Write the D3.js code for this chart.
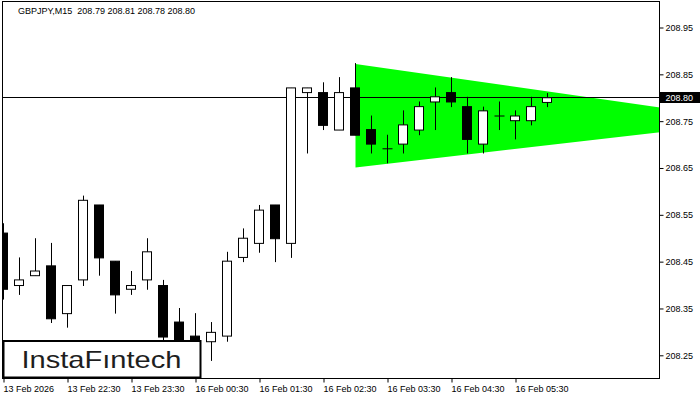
<!DOCTYPE html>
<html>
<head>
<meta charset="utf-8">
<script src="https://cdn.jsdelivr.net/npm/d3@7"></script>
<style>
  html, body { margin: 0; padding: 0; background: #fff; }
  svg { display: block; }
  text { font-family: "Liberation Sans", Arial, sans-serif; }
</style>
</head>
<body>
<svg id="chart" width="700" height="400"></svg>
<script>
// ---- data ----
const symbolTitle = "GBPJPY,M15  208.79 208.81 208.78 208.80";
const opens  = [208.511, 208.399, 208.420, 208.441, 208.339, 208.411, 208.571, 208.451, 208.391, 208.411, 208.399, 208.321, 208.291, 208.279, 208.291, 208.459, 208.489, 208.571, 208.489, 208.811, 208.811, 208.731, 208.821, 208.732, 208.691, 208.701, 208.731, 208.791, 208.811, 208.781, 208.701, 208.761, 208.751, 208.751, 208.790];
const highs  = [208.532, 208.459, 208.500, 208.490, 208.399, 208.591, 208.571, 208.451, 208.430, 208.500, 208.411, 208.351, 208.340, 208.321, 208.471, 208.521, 208.571, 208.571, 208.821, 208.821, 208.833, 208.844, 208.874, 208.762, 208.721, 208.773, 208.792, 208.822, 208.844, 208.802, 208.781, 208.792, 208.773, 208.802, 208.810];
const lows   = [208.369, 208.379, 208.420, 208.319, 208.309, 208.398, 208.420, 208.339, 208.379, 208.390, 208.275, 208.255, 208.250, 208.238, 208.279, 208.449, 208.469, 208.449, 208.458, 208.681, 208.731, 208.731, 208.720, 208.681, 208.660, 208.681, 208.720, 208.731, 208.780, 208.681, 208.681, 208.731, 208.711, 208.741, 208.780];
const closes = [208.391, 208.411, 208.430, 208.328, 208.399, 208.581, 208.458, 208.379, 208.399, 208.471, 208.289, 208.270, 208.275, 208.299, 208.451, 208.500, 208.560, 208.499, 208.821, 208.821, 208.741, 208.811, 208.720, 208.701, 208.691, 208.742, 208.781, 208.802, 208.791, 208.711, 208.772, 208.761, 208.761, 208.781, 208.800];
const lastPrice = 208.80;
const xTickIdx = [0, 4, 8, 12, 16, 20, 24, 28, 32];
const xTickLabels = ["13 Feb 2026", "13 Feb 22:30", "13 Feb 23:30", "16 Feb 00:30", "16 Feb 01:30", "16 Feb 02:30", "16 Feb 03:30", "16 Feb 04:30", "16 Feb 05:30"];
const yTicks = [208.25, 208.35, 208.45, 208.55, 208.65, 208.75, 208.85, 208.95];
// symmetrical triangle pattern: start bar index, upper/lower price at start, apex bar index and price
const triStartIdx = 22, triTop = 208.872, triBottom = 208.651, triApexIdx = 47, triApex = 208.750;
const logoText = "InstaFıntech";

// ---- layout ----
const L = 2.5, R = 659.5, T = 1.5, B = 378.5;
const svg = d3.select("#chart");
const x = d3.scaleLinear().domain([0, 41]).range([3.5, 659.5]);
const y = d3.scaleLinear().domain([208.25, 208.95]).range([355.3, 27.5]);

svg.append("rect").attr("width", 700).attr("height", 400).attr("fill", "#fff");

svg.append("defs").append("clipPath").attr("id", "plotClip")
  .append("rect").attr("x", L).attr("y", T).attr("width", R - L).attr("height", B - T);

const plot = svg.append("g").attr("clip-path", "url(#plotClip)");

// triangle
const triPts = [[triStartIdx, triTop], [triApexIdx, triApex], [triStartIdx, triBottom]];
plot.append("path")
  .attr("d", d3.line().x(d => x(d[0])).y(d => y(d[1]))(triPts) + "Z")
  .attr("fill", "#00ff00");

// last price line
const py = Math.round(y(lastPrice)) - 0.5;
plot.append("line").attr("x1", L).attr("x2", R).attr("y1", py).attr("y2", py)
  .attr("stroke", "#000").attr("stroke-width", 1);

// candles
const candles = opens.map((o, i) => ({ i, o, h: highs[i], l: lows[i], c: closes[i] }));
const cg = plot.selectAll("g.candle").data(candles).enter().append("g").attr("class", "candle");
cg.append("line")
  .attr("x1", d => Math.floor(x(d.i)) + 0.5).attr("x2", d => Math.floor(x(d.i)) + 0.5)
  .attr("y1", d => y(d.h)).attr("y2", d => y(d.l))
  .attr("stroke", "#000").attr("stroke-width", 1);
cg.each(function(d) {
  const g = d3.select(this);
  const cx = Math.floor(x(d.i)) + 0.5;
  const top = y(Math.max(d.o, d.c)), bot = y(Math.min(d.o, d.c));
  if (bot - top < 1) {
    g.append("line").attr("x1", cx - 5).attr("x2", cx + 5).attr("y1", top).attr("y2", top)
      .attr("stroke", "#000").attr("stroke-width", 1);
  } else {
    g.append("rect").attr("x", cx - 5).attr("y", top).attr("width", 9).attr("height", bot - top)
      .attr("fill", d.c > d.o ? "#fff" : "#000").attr("stroke", "#000").attr("stroke-width", 1);
  }
});

// frame
svg.append("rect").attr("x", L).attr("y", T).attr("width", R - L).attr("height", B - T)
  .attr("fill", "none").attr("stroke", "#000").attr("stroke-width", 1);

// right axis
const yAxis = d3.axisRight(y).tickValues(yTicks).tickFormat(d3.format(".2f")).tickSize(4).tickPadding(2);
const ya = svg.append("g").attr("transform", `translate(${R},0)`).call(yAxis);
ya.select(".domain").remove();
ya.selectAll("text").attr("font-size", 9).attr("font-family", "Liberation Sans, Arial, sans-serif").attr("fill", "#000");
ya.selectAll("line").attr("stroke", "#000");

// bottom axis
const xAxis = d3.axisBottom(x).tickValues(xTickIdx).tickFormat((d, i) => xTickLabels[i]).tickSize(4);
const xa = svg.append("g").attr("transform", `translate(0,${B})`).call(xAxis);
xa.select(".domain").remove();
xa.selectAll(".tick line").attr("stroke", "#000");
xa.selectAll("text").attr("font-size", 9).attr("font-family", "Liberation Sans, Arial, sans-serif")
  .attr("fill", "#000").attr("text-anchor", "start").attr("dy", null).attr("y", 13).attr("x", -0.5);

// last price label
svg.append("rect").attr("x", R + 0.5).attr("y", py - 5.5).attr("width", 700 - R).attr("height", 11).attr("fill", "#000");
svg.append("text").attr("x", R + 6).attr("y", py + 3.3).attr("font-size", 9).attr("fill", "#fff")
  .text(d3.format(".2f")(lastPrice));

// header
svg.append("text").attr("x", 18).attr("y", 14).attr("font-size", 9).attr("fill", "#000")
  .attr("xml:space", "preserve").style("white-space", "pre").text(symbolTitle);

// logo
svg.append("rect").attr("x", 3.5).attr("y", 341).attr("width", 197).attr("height", 36.5)
  .attr("fill", "#fff").attr("stroke", "#000").attr("stroke-width", 2);
svg.append("text").attr("x", 21.5).attr("y", 367.5).attr("font-size", 24)
  .attr("font-family", "Inter, 'Noto Sans', sans-serif").attr("font-weight", 500)
  .attr("fill", "#1e1e1e").attr("textLength", 160).attr("lengthAdjust", "spacingAndGlyphs")
  .text(logoText);
</script>
</body>
</html>
